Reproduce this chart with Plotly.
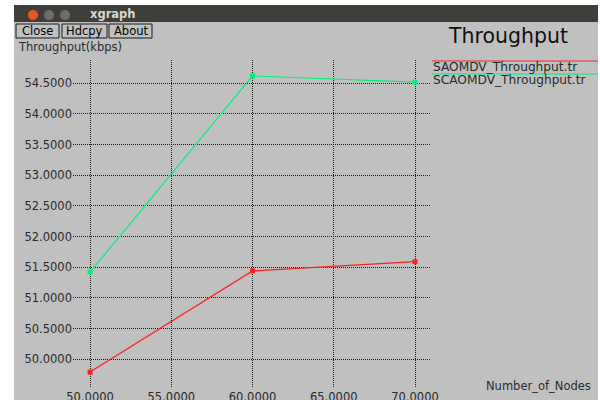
import plotly.graph_objects as go

# Throughput vs. number of nodes for the two routing traces
nodes = [50, 60, 70]
saomdv = [49.79, 51.44, 51.59]
scaomdv = [51.42, 54.62, 54.52]

series_names = ["SAOMDV_Throughput.tr", "SCAOMDV_Throughput.tr"]
series_colors = ["#ff2020", "#00f07a"]

x_ticks = [50, 55, 60, 65, 70]
y_ticks = [50.0, 50.5, 51.0, 51.5, 52.0, 52.5, 53.0, 53.5, 54.0, 54.5]

W, H = 600, 400
L, R, T, B = 73, 170, 60, 12
PW = W - L - R
PH = H - T - B
FONT = "DejaVu Sans"
BG = "#c0c0c0"


def px(x):
    """Figure pixel column -> paper x."""
    return (x - L) / PW


def py(y):
    """Figure pixel row -> paper y."""
    return (H - B - y) / PH


fig = go.Figure()
for vals, name, col in zip([saomdv, scaomdv], series_names, series_colors):
    fig.add_trace(go.Scatter(
        x=nodes, y=vals, name=name, mode="lines+markers",
        line=dict(color=col, width=1.2),
        marker=dict(symbol="square", size=5, color=col),
        cliponaxis=False, showlegend=False,
    ))

shapes = []
# window body
shapes.append(dict(type="rect", xref="paper", yref="paper", layer="below",
                   x0=px(14), x1=px(598), y0=py(5), y1=py(400),
                   fillcolor=BG, line=dict(width=0)))
# title bar
shapes.append(dict(type="rect", xref="paper", yref="paper", layer="below",
                   x0=px(14), x1=px(598), y0=py(5), y1=py(22),
                   fillcolor="#3f3e3a", line=dict(width=0)))
# window control buttons
for cx, fill in [(33, "#e0582a"), (49, "#6e6d69"), (65, "#6e6d69")]:
    shapes.append(dict(type="circle", xref="paper", yref="paper", layer="above",
                       x0=px(cx - 5.5), x1=px(cx + 5.5), y0=py(15 - 5.5), y1=py(15 + 5.5),
                       fillcolor=fill, line=dict(color="#2e2d2a", width=0.6)))
# toolbar buttons
buttons = [("Close", 16, 59), ("Hdcpy", 62, 107), ("About", 109, 152)]
for label, x0, x1 in buttons:
    shapes.append(dict(type="rect", xref="paper", yref="paper", layer="above",
                       x0=px(x0), x1=px(x1), y0=py(24), y1=py(38),
                       fillcolor=BG, line=dict(color="#1a1a1a", width=1)))
# legend swatches
for yy, col in [(61, series_colors[0]), (74, series_colors[1])]:
    shapes.append(dict(type="line", xref="paper", yref="paper", layer="above",
                       x0=px(432), x1=px(598), y0=py(yy), y1=py(yy),
                       line=dict(color=col, width=1.2)))

annotations = []


def text(s, x, y, size=11.5, color="#2a2a2a", xanchor="left", bold=False):
    if bold:
        s = "<b>" + s + "</b>"
    annotations.append(dict(text=s, x=px(x), y=py(y), xref="paper", yref="paper",
                            xanchor=xanchor, yanchor="middle", showarrow=False,
                            font=dict(family=FONT, size=size, color=color)))


text("xgraph", 88, 14, size=11.5, color="#dcd8cf", bold=True)
for label, x0, x1 in buttons:
    text(label, (x0 + x1) / 2, 31, size=11.5, color="#000000", xanchor="center")
text("Throughput(kbps)", 16, 47, size=11.5)
text("Throughput", 446, 36, size=20.5, color="#111111")
text(series_names[0], 431, 67, size=12.2)
text(series_names[1], 431, 80, size=12.2)
text("Number_of_Nodes", 484, 386, size=11.5)

grid = dict(showgrid=True, gridcolor="#1e1e1e", gridwidth=1, griddash="1px,1px",
            zeroline=False, showline=False, ticks="",
            tickfont=dict(family=FONT, size=11.5, color="#2a2a2a"),
            tickformat=".4f", fixedrange=True, automargin=False)

fig.update_layout(
    width=W, height=H,
    margin=dict(l=L, r=R, t=T, b=B, pad=0),
    paper_bgcolor="#ffffff", plot_bgcolor="rgba(0,0,0,0)",
    xaxis=dict(range=[48.95, 70.92], tickvals=x_ticks, **grid),
    yaxis=dict(range=[49.53, 54.88], tickvals=y_ticks, **grid),
    shapes=shapes, annotations=annotations,
    showlegend=False,
)

fig.write_html("out.html")
